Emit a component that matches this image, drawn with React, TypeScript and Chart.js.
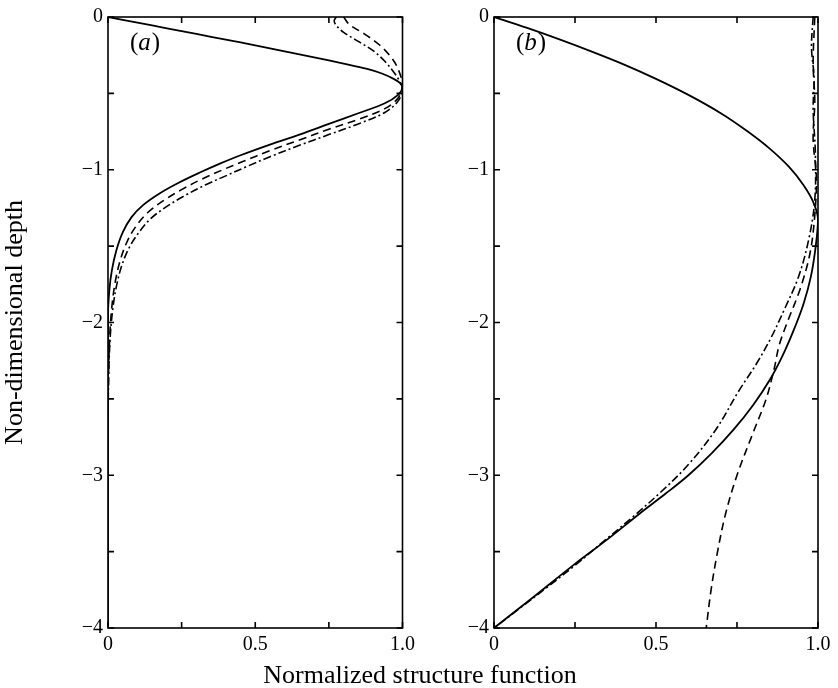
import React, { useEffect, useRef } from "react";
import { Chart, registerables } from "chart.js";

Chart.register(...registerables);

const FONT = "'Liberation Serif', 'Times New Roman', serif";

// Tick labels
const xTickLabels: Record<string, string> = { "0": "0", "0.5": "0.5", "1": "1.0" };
const yTickLabels: Record<string, string> = { "0": "0", "-1": "\u22121", "-2": "\u22122", "-3": "\u22123", "-4": "\u22124" };

// Panel (a)
const aSolidX = [0, 0.1, 0.2, 0.3, 0.4, 0.5, 0.6, 0.7, 0.8, 0.88, 0.93, 0.97, 0.99, 1.0, 0.985, 0.94, 0.85, 0.75, 0.65, 0.55, 0.45, 0.38, 0.31, 0.24, 0.175, 0.12, 0.08, 0.05, 0.028, 0.013, 0.005, 0, 0];
const aSolidD = [0, -0.037, -0.074, -0.111, -0.148, -0.186, -0.225, -0.264, -0.305, -0.34, -0.37, -0.405, -0.43, -0.46, -0.51, -0.565, -0.63, -0.7, -0.77, -0.835, -0.905, -0.96, -1.02, -1.085, -1.155, -1.23, -1.31, -1.41, -1.53, -1.66, -1.78, -1.95, -4];
const aDashX = [0.8, 0.82, 0.87, 0.92, 0.96, 0.985, 1.0, 0.985, 0.94, 0.85, 0.75, 0.65, 0.55, 0.46, 0.39, 0.32, 0.25, 0.19, 0.135, 0.095, 0.065, 0.042, 0.025, 0.014, 0.007, 0.003, 0];
const aDashD = [0, -0.05, -0.11, -0.18, -0.26, -0.34, -0.45, -0.53, -0.6, -0.67, -0.735, -0.805, -0.875, -0.945, -1.0, -1.06, -1.13, -1.2, -1.28, -1.37, -1.47, -1.59, -1.73, -1.88, -2.05, -2.25, -2.55];
const aDotDashX = [0.775, 0.768, 0.775, 0.8, 0.85, 0.9, 0.94, 0.97, 0.99, 1.0, 0.985, 0.94, 0.85, 0.75, 0.65, 0.55, 0.47, 0.4, 0.33, 0.26, 0.2, 0.145, 0.105, 0.072, 0.048, 0.03, 0.017, 0.008, 0.003, 0];
const aDotDashD = [0, -0.025, -0.055, -0.1, -0.16, -0.22, -0.29, -0.36, -0.42, -0.47, -0.55, -0.625, -0.7, -0.77, -0.84, -0.915, -0.98, -1.04, -1.1, -1.17, -1.24, -1.32, -1.41, -1.51, -1.62, -1.75, -1.9, -2.08, -2.3, -2.6];

// Panel (b)
const bSolidX = [0, 0.1, 0.2, 0.3, 0.4, 0.5, 0.6, 0.7, 0.78, 0.85, 0.91, 0.955, 0.985, 1.0, 0.993, 0.978, 0.955, 0.925, 0.89, 0.85, 0.8, 0.74, 0.67, 0.6, 0.53, 0.45, 0.35, 0.25, 0.12, 0];
const bSolidD = [0, -0.07, -0.145, -0.225, -0.31, -0.405, -0.51, -0.63, -0.745, -0.86, -0.98, -1.1, -1.21, -1.32, -1.5, -1.7, -1.88, -2.05, -2.22, -2.38, -2.54, -2.7, -2.86, -3.0, -3.12, -3.25, -3.42, -3.58, -3.8, -4];
const bDashX = [0.99, 0.985, 0.99, 0.985, 0.995, 0.99, 0.975, 0.945, 0.905, 0.88, 0.865, 0.84, 0.8, 0.75, 0.715, 0.69, 0.67, 0.655];
const bDashD = [0, -0.3, -0.55, -0.8, -1.05, -1.3, -1.55, -1.78, -2.0, -2.15, -2.3, -2.5, -2.72, -3.0, -3.25, -3.5, -3.75, -4];
const bDotDashX = [0.985, 0.98, 0.988, 0.985, 0.992, 0.99, 0.972, 0.94, 0.895, 0.855, 0.81, 0.755, 0.685, 0.6, 0.52, 0.43, 0.34, 0.25, 0.16, 0.08, 0];
const bDotDashD = [0, -0.2, -0.4, -0.6, -0.9, -1.2, -1.45, -1.7, -1.92, -2.1, -2.27, -2.45, -2.7, -2.93, -3.1, -3.27, -3.43, -3.59, -3.74, -3.87, -4];

const toPts = (xs: number[], ds: number[]) => xs.map((x, i) => ({ x, y: ds[i] }));

const framePlugin = {
  id: "frameTicks",
  afterDatasetsDraw(chart: any) {
    const { ctx, chartArea } = chart;
    const { left, right, top, bottom } = chartArea;
    const xs = chart.scales.x;
    const ys = chart.scales.y;
    const len = 6;
    ctx.save();
    ctx.strokeStyle = "#000";
    ctx.lineWidth = 1.6;
    ctx.setLineDash([]);
    ctx.strokeRect(left, top, right - left, bottom - top);
    ctx.beginPath();
    xs.ticks.forEach((t: any) => {
      const px = xs.getPixelForValue(t.value);
      ctx.moveTo(px, bottom);
      ctx.lineTo(px, bottom - len);
      ctx.moveTo(px, top);
      ctx.lineTo(px, top + len);
    });
    ys.ticks.forEach((t: any) => {
      const py = ys.getPixelForValue(t.value);
      ctx.moveTo(left, py);
      ctx.lineTo(left + len, py);
      ctx.moveTo(right, py);
      ctx.lineTo(right - len, py);
    });
    ctx.stroke();
    const lab = chart.options.plugins.panelLabel?.text as string;
    if (lab) {
      ctx.fillStyle = "#000";
      ctx.textBaseline = "middle";
      let x = left + 22;
      const y = top + 26;
      const up = `25px ${FONT}`;
      const it = `italic 25px ${FONT}`;
      ctx.font = up;
      ctx.fillText("(", x, y);
      x += ctx.measureText("(").width;
      ctx.font = it;
      ctx.fillText(lab, x, y);
      x += ctx.measureText(lab).width + 1;
      ctx.font = up;
      ctx.fillText(")", x, y);
    }
    ctx.restore();
  },
};

function makeConfig(
  sets: { data: { x: number; y: number }[]; dash: number[]; width: number }[],
  yWidth: number,
  padRight: number,
  label: string,
  withTitle: boolean
): any {
  return {
    type: "scatter",
    data: {
      datasets: sets.map((s) => ({
        data: s.data,
        showLine: true,
        borderColor: "#000",
        borderWidth: s.width,
        borderDash: s.dash,
        pointRadius: 0,
        tension: 0.35,
        fill: false,
      })),
    },
    options: {
      animation: false,
      responsive: false,
      maintainAspectRatio: false,
      layout: { padding: { left: 0, right: padRight, top: 10, bottom: 0 } },
      plugins: { legend: { display: false }, tooltip: { enabled: false }, panelLabel: { text: label } },
      scales: {
        x: {
          type: "linear",
          min: 0,
          max: 1,
          grid: { display: false, drawTicks: false },
          border: { display: false },
          ticks: {
            stepSize: 0.25,
            autoSkip: false,
            maxRotation: 0,
            padding: 5,
            color: "#000",
            font: { family: FONT, size: 20 },
            callback: (v: number) => xTickLabels[String(Math.round(v * 100) / 100)] ?? "",
          },
          afterFit: (s: any) => {
            s.height = 60;
          },
        },
        y: {
          type: "linear",
          min: -4,
          max: 0,
          grid: { display: false, drawTicks: false },
          border: { display: false },
          ticks: {
            stepSize: 0.5,
            autoSkip: false,
            padding: 5,
            color: "#000",
            font: { family: FONT, size: 20 },
            callback: (v: number) => yTickLabels[String(Math.round(v * 100) / 100)] ?? "",
          },
          title: {
            display: withTitle,
            text: "Non-dimensional depth",
            color: "#000",
            font: { family: FONT, size: 26 },
            padding: { top: 0, bottom: 0 },
          },
          afterFit: (s: any) => {
            s.width = yWidth;
          },
        },
      },
    },
    plugins: [framePlugin],
  };
}

export default function App() {
  const refA = useRef<HTMLCanvasElement>(null);
  const refB = useRef<HTMLCanvasElement>(null);

  useEffect(() => {
    const a = new Chart(
      refA.current!,
      makeConfig(
        [
          { data: toPts(aSolidX, aSolidD), dash: [], width: 1.8 },
          { data: toPts(aDashX, aDashD), dash: [8, 5], width: 1.6 },
          { data: toPts(aDotDashX, aDotDashD), dash: [8, 3, 2, 3], width: 1.6 },
        ],
        108,
        17,
        "a",
        true
      )
    );
    const b = new Chart(
      refB.current!,
      makeConfig(
        [
          { data: toPts(bSolidX, bSolidD), dash: [], width: 1.8 },
          { data: toPts(bDashX, bDashD), dash: [8, 5], width: 1.6 },
          { data: toPts(bDotDashX, bDotDashD), dash: [8, 3, 2, 3], width: 1.6 },
        ],
        74,
        20,
        "b",
        false
      )
    );
    return () => {
      a.destroy();
      b.destroy();
    };
  }, []);

  return (
    <div style={{ position: "absolute", left: 0, top: 0, width: 838, height: 688, background: "#fff" }}>
      <canvas ref={refA} width={420} height={688} style={{ position: "absolute", left: 0, top: 0 }} />
      <canvas ref={refB} width={418} height={688} style={{ position: "absolute", left: 420, top: 0 }} />
      <div
        style={{
          position: "absolute",
          left: 0,
          width: 840,
          top: 660,
          textAlign: "center",
          fontFamily: FONT,
          fontSize: 26,
          color: "#000",
          lineHeight: "30px",
        }}
      >
        Normalized structure function
      </div>
    </div>
  );
}
